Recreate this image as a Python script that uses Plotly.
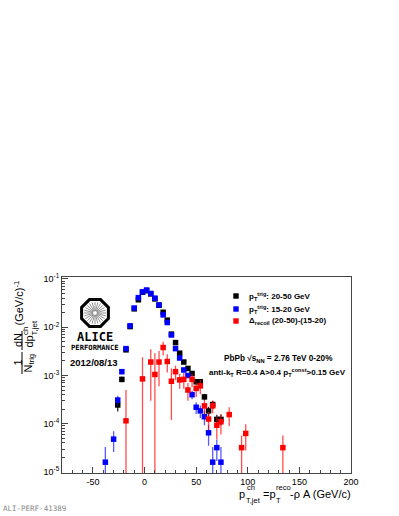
import plotly.graph_objects as go
import math

# ---------------- data ----------------
x_black = [-26, -22, -18, -14, -10, -6, -2, 2, 6, 10, 14, 18, 22, 26, 30, 34, 38, 42, 46, 50, 54, 58, 62, 66, 70, 74]
y_black = [2.45e-4, 8.3e-4, 3.4e-3, 1.03e-2, 2.4e-2, 3.7e-2, 5.3e-2, 5.7e-2, 4.9e-2, 3.85e-2, 2.85e-2, 2.04e-2,
           1.4e-2, 7.2e-3, 4.8e-3, 2.9e-3, 1.9e-3, 1.4e-3, 1.1e-3, 7.4e-4, 7.4e-4, 3.6e-4, 1.85e-4, 2.5e-4,
           1.23e-4, 1.23e-4]
e_black = [6.5e-5, 1.1e-4, 2e-4, 3.5e-4, 5e-4, 6e-4, 7e-4, 7e-4, 7e-4, 6e-4, 5e-4, 4.5e-4,
           3.5e-4, 2.6e-4, 2.1e-4, 1.6e-4, 1.3e-4, 1.1e-4, 1e-4, 8e-5, 8e-5, 5.5e-5, 4e-5, 4.5e-5,
           3e-5, 3e-5]

x_blue = [-38, -30, -26, -22, -18, -14, -10, -6, -2, 2, 6, 10, 14, 18, 22, 26, 30, 34, 38, 42, 46, 50, 54,
          58, 62, 66, 70, 74]
y_blue = [1.6e-5, 4.8e-5, 3.1e-4, 1.2e-3, 3.6e-3, 1.07e-2, 2.5e-2, 4.1e-2, 5.4e-2, 5.9e-2, 5.0e-2, 4.0e-2,
          2.9e-2, 1.8e-2, 1.25e-2, 6.9e-3, 3.6e-3, 2.3e-3, 1.3e-3, 1.0e-3, 4.0e-4, 2.2e-4, 1.85e-4,
          1.4e-4, 6.5e-5, 1.6e-5, 3.2e-5, 1.6e-5]
e_blue = [1.7e-5, 2.2e-5, 7e-5, 1.5e-4, 2.5e-4, 4e-4, 6e-4, 8e-4, 9e-4, 1e-3, 9e-4, 8e-4,
          7e-4, 5.5e-4, 4.5e-4, 3.3e-4, 2.4e-4, 1.9e-4, 1.45e-4, 1.25e-4, 8e-5, 6e-5, 5.5e-5,
          4.7e-5, 3e-5, 1.7e-5, 1.5e-5, 1.7e-5]

x_red = [-18, -2, 6, 10, 14, 18, 22, 26, 30, 34, 38, 42, 46, 50, 54, 58, 62, 66, 70, 74, 82, 94, 98, 134]
y_red = [1.15e-4, 8.5e-4, 1.9e-3, 1.05e-3, 1.9e-3, 3.8e-3, 1.95e-3, 7.6e-4, 1.2e-3, 8.1e-4, 8.3e-4, 5e-4,
         8.3e-4, 5.4e-4, 6.1e-4, 2.35e-4, 1.25e-4, 2.35e-4, 9.3e-5, 1.1e-4, 1.55e-4, 3.2e-5, 6.3e-5, 3.2e-5]
e_red = [3.85e-4, 1.55e-3, 1.6e-3, 1.85e-3, 1.3e-3, 1.2e-3, 8e-4, 6.4e-4, 4e-4, 2.8e-4, 3e-4, 2e-4,
         2.5e-4, 1.8e-4, 2e-4, 8e-5, 5e-5, 7e-5, 4.5e-5, 5e-5, 6.5e-5, 2.5e-5, 3.5e-5, 2.5e-5]

legend_labels = ["<b>p<sub>T</sub><sup>trig</sup>: 20-50 GeV</b>",
                 "<b>p<sub>T</sub><sup>trig</sup>: 15-20 GeV</b>",
                 "<b>Δ<sub>recoil</sub> (20-50)-(15-20)</b>"]
series_colors = ["#000000", "#0000ff", "#ff0000"]
err_colors = ["rgba(0,0,0,0.85)", "rgba(0,0,255,0.65)", "rgba(255,0,0,0.7)"]

x_tick_vals = [-50, 0, 50, 100, 150, 200]
x_tick_text = ["-50", "0", "50", "100", "150", "200"]
y_tick_vals = [1e-5, 1e-4, 1e-3, 1e-2, 1e-1]
y_tick_text = ["10<sup>-5</sup>", "10<sup>-4</sup>", "10<sup>-3</sup>", "10<sup>-2</sup>", "10<sup>-1</sup>"]
y_minor_vals = [k * 10.0 ** d for d in range(-5, -1 + 1) for k in range(2, 10)]

# ---------------- layout geometry ----------------
W, H = 399, 516
L, R, T, B = 62, 351, 277, 473

def px(x):
    return (x - L) / (R - L)

def py(y):
    return (B - y) / (B - T)

FONT = "Liberation Sans, Arial, Helvetica, sans-serif"

fig = go.Figure()
for xs, ys, es, c, ec in [(x_black, y_black, e_black, series_colors[0], err_colors[0]),
                          (x_blue, y_blue, e_blue, series_colors[1], err_colors[1]),
                          (x_red, y_red, e_red, series_colors[2], err_colors[2])]:
    fig.add_trace(go.Scatter(
        x=xs, y=ys, mode="markers",
        marker=dict(symbol="square", size=5.5, color=c, line=dict(width=0)),
        error_y=dict(type="data", array=es, visible=True, color=ec, thickness=1.3, width=0),
        showlegend=False, hoverinfo="skip"))

fig.update_layout(
    width=W, height=H,
    margin=dict(l=L, r=W - R, t=T, b=H - B),
    paper_bgcolor="white", plot_bgcolor="white",
    font=dict(family=FONT, size=9, color="black"),
    showlegend=False,
)

fig.update_xaxes(
    range=[-80, 200], showgrid=False, zeroline=False,
    showline=True, linecolor="#444", linewidth=1, mirror=True,
    ticks="inside", ticklen=6, tickcolor="#444",
    tickmode="array", tickvals=x_tick_vals, ticktext=x_tick_text,
    tickfont=dict(size=9, family=FONT),
    minor=dict(ticks="inside", ticklen=3, dtick=10, tick0=0, tickcolor="#444", showgrid=False),
)
fig.update_yaxes(
    type="log", range=[-5.02, -0.96], showgrid=False, zeroline=False,
    showline=True, linecolor="#444", linewidth=1, mirror=True,
    ticks="inside", ticklen=6, tickcolor="#444",
    tickmode="array", tickvals=y_tick_vals, ticktext=y_tick_text,
    tickfont=dict(size=9, family=FONT),
    minor=dict(ticks="inside", ticklen=3, tickmode="array", tickvals=y_minor_vals,
               tickcolor="#444", showgrid=False),
)

ann = []

def A(text, x, y, size=11, xanchor="center", angle=0, color="black", family=FONT):
    ann.append(dict(text=text, x=px(x), y=py(y), xref="paper", yref="paper",
                    xanchor=xanchor, yanchor="middle", showarrow=False, textangle=angle,
                    borderpad=0,
                    font=dict(size=size, color=color, family=family)))

shapes = []

def line(x0, y0, x1, y1, color="black", width=1):
    shapes.append(dict(type="line", xref="paper", yref="paper",
                       x0=px(x0), y0=py(y0), x1=px(x1), y1=py(y1),
                       line=dict(color=color, width=width)))

# y-axis title (rotated fraction pieces)
A("1", 17.5, 363, size=11, angle=-90)
line(22, 352, 22, 374)
A("N<sub>trig</sub>", 28.5, 363, size=11, angle=-90)
A("dN", 17.5, 340.5, size=11, angle=-90)
line(22, 331, 22, 350)
A("dp", 28.5, 342, size=11, angle=-90)
A("ch", 25, 331, size=8, angle=-90)
A("T,jet", 34, 328.5, size=8, angle=-90)
A("(GeV/c)<sup>-1</sup>", 18.5, 303, size=11, angle=-90)

# x-axis title
A("p", 238, 493.5, size=11, xanchor="left")
A("ch", 246, 487.5, size=7.5, xanchor="left")
A("T,jet", 245, 500.5, size=7.5, xanchor="left")
A("=p", 262, 493.5, size=11, xanchor="left")
A("reco", 275, 487.5, size=7.5, xanchor="left")
A("T", 275, 500.5, size=7.5, xanchor="left")
A("-ρ A (GeV/c)", 289, 493.5, size=11, xanchor="left")

# legend
leg_y = [296, 309, 321]
for lab, yy, c in zip(legend_labels, leg_y, series_colors):
    shapes.append(dict(type="rect", xref="paper", yref="paper",
                       x0=px(233.3), x1=px(238.7), y0=py(yy - 2.7), y1=py(yy + 2.7),
                       fillcolor=c, line=dict(width=0)))
    A(lab, 248, yy, size=8, xanchor="left")

# system text
A("<b>PbPb √s<sub>NN</sub> = 2.76 TeV 0-20%</b>", 278, 359, size=8.2)
A("<b>anti-k<sub>T</sub> R=0.4 A>0.4 p<sub>T</sub><sup>const</sup>>0.15 GeV</b>", 277, 372, size=8)

# ALICE logo
cx, cy, r = 95, 313, 14.5
pts = []
for k in range(8):
    a = math.radians(22.5 + 45 * k)
    pts.append((cx + r * math.cos(a), cy + r * math.sin(a)))
path = "M " + " L ".join(f"{px(a):.5f},{py(b):.5f}" for a, b in pts) + " Z"
shapes.append(dict(type="path", xref="paper", yref="paper", path=path,
                   line=dict(color="black", width=3), fillcolor="white"))
for k in range(24):
    a = math.radians(360 / 24 * k)
    line(cx + 2 * math.cos(a), cy + 2 * math.sin(a), cx + 11 * math.cos(a), cy + 11 * math.sin(a),
         color="#777", width=0.8)
A("<b>ALICE</b>", 95, 337, size=12, family="DejaVu Sans Mono")
A("<b>PERFORMANCE</b>", 95, 347.5, size=7.2, family="DejaVu Sans Mono")
A("<b>2012/08/13</b>", 93.5, 362, size=9.5)

# watermark
A("ALI-PERF-41389", 2, 508, size=7.5, xanchor="left", color="#888", family="DejaVu Sans Mono")

fig.update_layout(annotations=ann, shapes=shapes)
fig.write_html("out.html",
               config={"displayModeBar": False, "staticPlot": True},
               post_script="document.body.style.margin='0';document.body.style.overflow='hidden';")
